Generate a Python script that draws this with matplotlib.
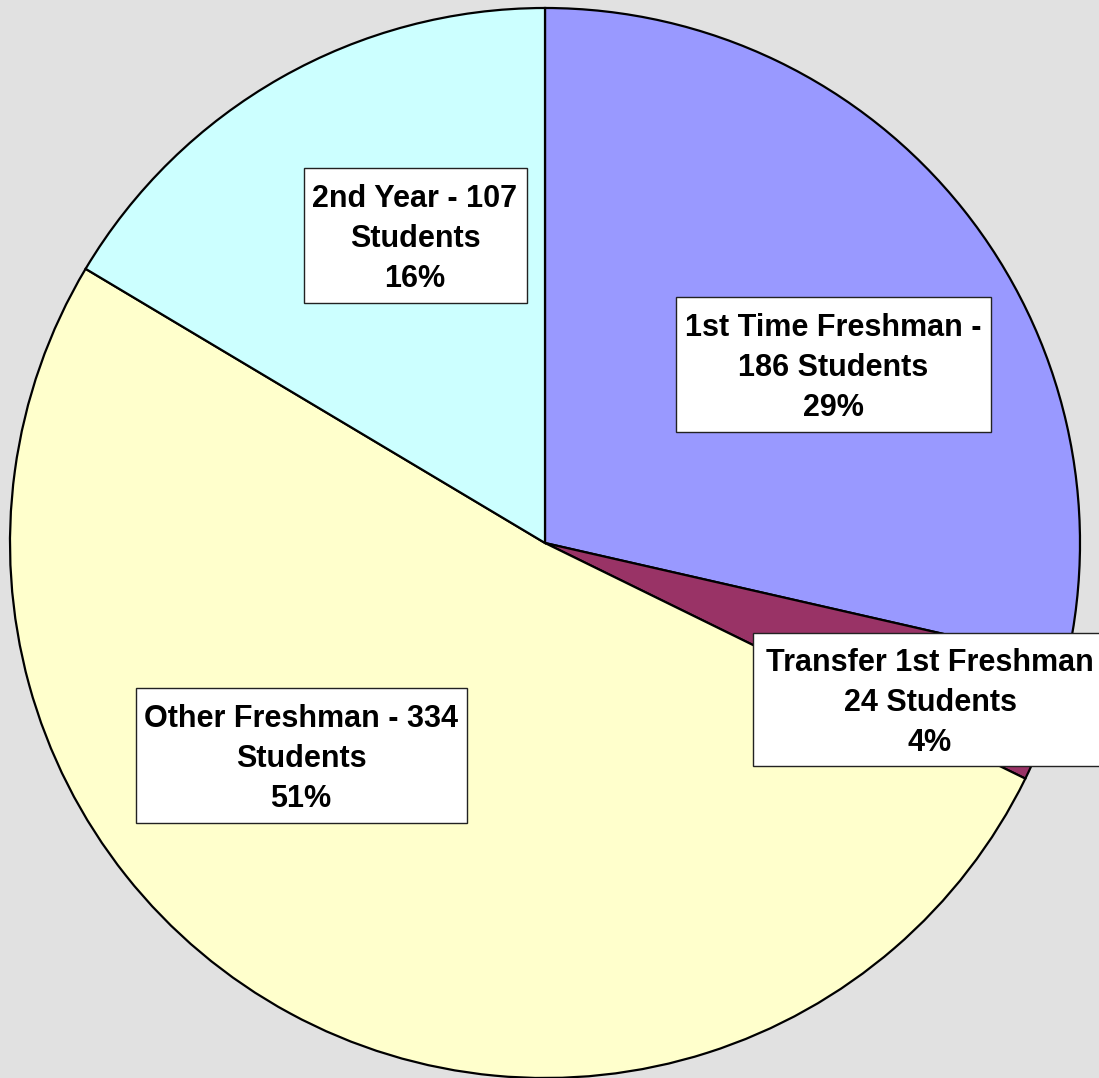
import matplotlib.pyplot as plt
from matplotlib.patches import Rectangle

# Enrollment breakdown, clockwise from 12 o'clock
categories = ['1st Time Freshman', 'Transfer 1st Freshman', 'Other Freshman', '2nd Year']
students = [186, 24, 334, 107]
percents = ['29%', '4%', '51%', '16%']
label_text = [
    '1st Time Freshman -\n186 Students\n29%',
    'Transfer 1st Freshman\n24 Students\n4%',
    'Other Freshman - 334\nStudents\n51%',
    '2nd Year - 107\nStudents\n16%',
]
colors = ['#9999FF', '#993366', '#FFFFCC', '#CCFFFF']

# label boxes in pixel coords (cx, cy from top, w, h)
boxes = [
    (833, 364, 315, 135),
    (930, 699, 354, 133),
    (301, 755, 331, 135),
    (415, 235, 223, 135),
]

W, H = 1099, 1078
fig = plt.figure(figsize=(W / 100, H / 100), dpi=100)
fig.patch.set_facecolor('#e1e1e1')
ax = fig.add_axes([0, 0, 1, 1])

ax.pie(students, colors=colors, startangle=90, counterclock=False,
       center=(545, H - 543), radius=535, frame=True,
       wedgeprops=dict(edgecolor='black', linewidth=1.6))
ax.set_xlim(0, W)
ax.set_ylim(0, H)
ax.axis('off')

for (cx, cy, w, h), txt in zip(boxes, label_text):
    y = H - cy
    ax.add_patch(Rectangle((cx - w / 2, y - h / 2), w, h, facecolor='white',
                           edgecolor='#222222', linewidth=1.0, zorder=5))
    ax.text(cx, y - 4, txt, ha='center', va='center', fontsize=22,
            fontweight='bold', family=['Liberation Sans', 'DejaVu Sans'],
            linespacing=1.42, zorder=6)

fig.savefig('out.png', dpi=100, facecolor=fig.get_facecolor())
